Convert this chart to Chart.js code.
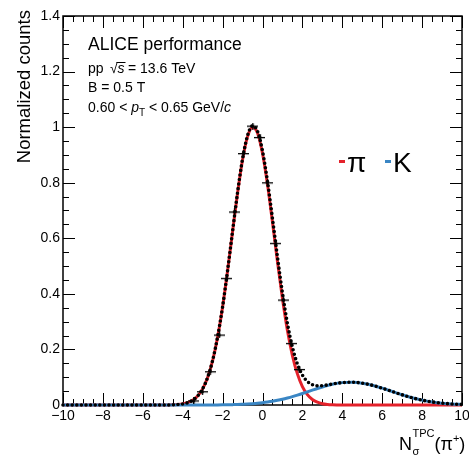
<!DOCTYPE html>
<html>
<head>
<meta charset="utf-8">
<script src="https://cdn.jsdelivr.net/npm/chart.js@4/dist/chart.umd.min.js"></script>
<style>
    html, body { margin: 0; padding: 0; background: #fff; }
</style>
</head>
<body>
<canvas id="nsigmaChart" width="469" height="455"></canvas>
<script>
//#region Data
const fitX = [-10, -9, -8, -7, -6, -5,
    -4.5, -4.25, -4, -3.75, -3.5, -3.25, -3, -2.75, -2.5, -2.25, -2, -1.75, -1.5, -1.25, -1, -0.75,
    -0.5, -0.25, 0, 0.25, 0.5, 0.75, 1, 1.25, 1.5, 1.75, 2, 2.25, 2.5, 2.75, 3, 3.25, 3.5,
    4, 4.5, 5, 5.5, 6, 6.5, 7, 7.5, 8, 8.5, 9, 9.5, 10];
const pionFit = [0, 0, 0, 0, 0, 0,
    0.0007, 0.0017, 0.0039, 0.0084, 0.0169, 0.0322, 0.0581, 0.0992, 0.160, 0.245, 0.353, 0.483, 0.624, 0.763, 0.883, 0.966,
    1.000, 0.979, 0.906, 0.794, 0.658, 0.516, 0.383, 0.268, 0.178, 0.112, 0.0664, 0.0373, 0.0198, 0.0100, 0.0047, 0.0021, 0.0009,
    0.0001, 0, 0, 0, 0, 0, 0, 0, 0, 0, 0, 0, 0];
const kaonFit = [0, 0, 0, 0, 0, 0,
    0, 0, 0, 0, 0, 0.0001, 0.0001, 0.0002, 0.0003, 0.0004, 0.0006, 0.0009, 0.0013, 0.0018, 0.0026, 0.0035,
    0.0047, 0.0062, 0.0082, 0.0106, 0.0134, 0.0168, 0.0207, 0.0252, 0.0301, 0.0355, 0.0413, 0.0473, 0.0533, 0.0593, 0.0649, 0.0701, 0.0745,
    0.0805, 0.0819, 0.0786, 0.0710, 0.0605, 0.0485, 0.0367, 0.0261, 0.0175, 0.0111, 0.0066, 0.0037, 0.0020];
const totalFit = [0, 0, 0, 0, 0, 0,
    0.0007, 0.0017, 0.0039, 0.0084, 0.0169, 0.0323, 0.0582, 0.0994, 0.1603, 0.2454, 0.3536, 0.4839, 0.6253, 0.7648, 0.8856, 0.9695,
    1.0047, 0.9852, 0.9142, 0.8046, 0.6714, 0.5328, 0.4037, 0.2932, 0.2081, 0.1475, 0.1077, 0.0846, 0.0731, 0.0693, 0.0696, 0.0722, 0.0754,
    0.0806, 0.0819, 0.0786, 0.0710, 0.0605, 0.0485, 0.0367, 0.0261, 0.0175, 0.0111, 0.0066, 0.0037, 0.0020];

const dataX = [-3.45, -3.02, -2.63, -2.17, -1.80, -1.41, -0.96, -0.49, -0.13, 0.24, 0.66, 1.04, 1.43, 1.83];
const dataY = [0.015, 0.048, 0.120, 0.252, 0.456, 0.695, 0.905, 1.004, 0.963, 0.800, 0.582, 0.378, 0.222, 0.128];
//#endregion

const FONT = '"Liberation Sans", Arial, Helvetica, sans-serif';
const RED = "#e4222b";
const BLUE = "#3a86c4";

function font(size, italic) {
    return (italic ? "italic " : "") + size + "px " + FONT;
}

function points(xs, ys) {
    return xs.map((x, i) => ({ x: x, y: ys[i] }));
}

// marker with error bars: wide horizontal bar, short vertical bar, dot
function errorMarker() {
    const c = document.createElement("canvas");
    c.width = 11;
    c.height = 7;
    const g = c.getContext("2d");
    g.fillStyle = "#000";
    g.fillRect(0, 3, 11, 1.3);
    g.fillRect(5, 0, 1.3, 7);
    g.beginPath();
    g.arc(5.6, 3.6, 1.7, 0, Math.PI * 2);
    g.fill();
    return c;
}

//#region Frame and ticks (ROOT style, ticks inside)
const frameTicks = {
    id: "frameTicks",
    beforeDatasetsDraw(chart) {
        const { ctx, chartArea: a, scales: { x, y } } = chart;
        ctx.save();
        ctx.strokeStyle = "#000";
        ctx.lineWidth = 1;
        ctx.beginPath();
        for (let i = 0; i <= 40; i++) {
            const v = -10 + i * 0.5;
            const px = Math.round(x.getPixelForValue(v)) + 0.5;
            const len = i % 4 === 0 ? 12 : 6;
            ctx.moveTo(px, a.bottom); ctx.lineTo(px, a.bottom - len);
            ctx.moveTo(px, a.top); ctx.lineTo(px, a.top + len);
        }
        for (let i = 0; i <= 28; i++) {
            const v = i * 0.05;
            const py = Math.round(y.getPixelForValue(v)) + 0.5;
            const len = i % 4 === 0 ? 12 : 6;
            ctx.moveTo(a.left, py); ctx.lineTo(a.left + len, py);
            ctx.moveTo(a.right, py); ctx.lineTo(a.right - len, py);
        }
        ctx.stroke();
        ctx.lineWidth = 1.5;
        ctx.strokeRect(a.left, a.top, a.right - a.left, a.bottom - a.top);
        ctx.restore();
    }
};
//#endregion

//#region Texts
const texts = {
    id: "texts",
    afterDraw(chart) {
        const ctx = chart.ctx;
        ctx.save();
        ctx.fillStyle = "#000";
        ctx.strokeStyle = "#000";
        ctx.textBaseline = "alphabetic";
        ctx.textAlign = "left";

        ctx.font = font(17.5);
        ctx.fillText("ALICE performance", 88, 50);

        ctx.font = font(14);
        ctx.fillText("pp", 88, 73);
        ctx.fillText("\u221A", 110, 73);
        ctx.font = font(14, true);
        ctx.fillText("s", 117.5, 73);
        ctx.lineWidth = 1;
        ctx.beginPath();
        ctx.moveTo(116.5, 62.5); ctx.lineTo(125.5, 62.5);
        ctx.stroke();
        ctx.font = font(14);
        ctx.fillText("= 13.6 TeV", 128, 73);

        ctx.fillText("B = 0.5 T", 88, 92);

        let px = 88;
        ctx.font = font(14);
        ctx.fillText("0.60 < ", px, 112); px += ctx.measureText("0.60 < ").width;
        ctx.font = font(14, true);
        ctx.fillText("p", px, 112); px += ctx.measureText("p").width;
        ctx.font = font(10);
        ctx.fillText("T", px, 116); px += ctx.measureText("T").width;
        ctx.font = font(14);
        ctx.fillText(" < 0.65 GeV/", px, 112); px += ctx.measureText(" < 0.65 GeV/").width;
        ctx.font = font(14, true);
        ctx.fillText("c", px, 112);

        // legend
        ctx.fillStyle = RED;
        ctx.fillRect(339, 160, 6, 3);
        ctx.fillStyle = BLUE;
        ctx.fillRect(385, 160, 6, 3);
        ctx.fillStyle = "#000";
        ctx.font = font(28);
        ctx.fillText("\u03C0", 347, 172);
        ctx.fillText("K", 393, 172);

        // y title
        ctx.save();
        ctx.translate(29.5, 10);
        ctx.rotate(-Math.PI / 2);
        ctx.textAlign = "right";
        ctx.font = font(18.5);
        ctx.fillText("Normalized counts", 0, 0);
        ctx.restore();

        // x title
        let tx = 399;
        ctx.font = font(18);
        ctx.fillText("N", tx, 450); tx += ctx.measureText("N").width + 0.5;
        ctx.font = font(11);
        ctx.fillText("\u03C3", tx, 455);
        ctx.fillText("TPC", tx, 437); tx += ctx.measureText("TPC").width;
        ctx.font = font(18);
        ctx.fillText("(\u03C0", tx, 450); tx += ctx.measureText("(\u03C0").width;
        ctx.font = font(11);
        ctx.fillText("+", tx, 442); tx += ctx.measureText("+").width;
        ctx.font = font(18);
        ctx.fillText(")", tx, 450);

        ctx.restore();
    }
};
//#endregion

//#region Load Chart
function LoadNsigmaChart() {
    const element = document.querySelector("#nsigmaChart");
    const curve = {
        showLine: true,
        pointRadius: 0,
        cubicInterpolationMode: "monotone",
        fill: false,
        clip: false
    };
    new Chart(element, {
        type: "scatter",
        data: {
            datasets: [
                {
                    data: points(dataX, dataY),
                    showLine: false,
                    pointStyle: errorMarker(),
                    pointRadius: 4,
                    order: 0,
                    clip: false
                },
                Object.assign({}, curve, {
                    data: points(fitX, totalFit),
                    borderColor: "#000",
                    borderWidth: 3.6,
                    borderDash: [0, 4.6],
                    borderCapStyle: "round",
                    order: 1
                }),
                Object.assign({}, curve, {
                    data: points(fitX, kaonFit),
                    borderColor: BLUE,
                    borderWidth: 3,
                    order: 2
                }),
                Object.assign({}, curve, {
                    data: points(fitX, pionFit),
                    borderColor: RED,
                    borderWidth: 3,
                    order: 3
                })
            ]
        },
        options: {
            responsive: false,
            animation: false,
            events: [],
            layout: { padding: { left: 0, top: 16, right: 7, bottom: 0 } },
            plugins: {
                legend: { display: false },
                tooltip: { enabled: false }
            },
            scales: {
                x: {
                    type: "linear",
                    min: -10,
                    max: 10,
                    grid: { display: false, drawTicks: false },
                    border: { display: false },
                    ticks: {
                        stepSize: 2,
                        padding: 3,
                        color: "#000",
                        font: { family: FONT, size: 14 },
                        maxRotation: 0,
                        autoSkip: false,
                        callback: v => String(v).replace("-", "\u2212")
                    },
                    afterFit: s => { s.height = 50; s.paddingLeft = 0; s.paddingRight = 0; }
                },
                y: {
                    min: 0,
                    max: 1.4,
                    grid: { display: false, drawTicks: false },
                    border: { display: false },
                    ticks: {
                        stepSize: 0.2,
                        padding: 3,
                        color: "#000",
                        font: { family: FONT, size: 14 },
                        callback: v => String(Math.round(v * 10) / 10)
                    },
                    afterFit: s => { s.width = 63; s.paddingTop = 0; s.paddingBottom = 0; }
                }
            }
        },
        plugins: [frameTicks, texts]
    });
}
//#endregion

LoadNsigmaChart();
</script>
</body>
</html>
